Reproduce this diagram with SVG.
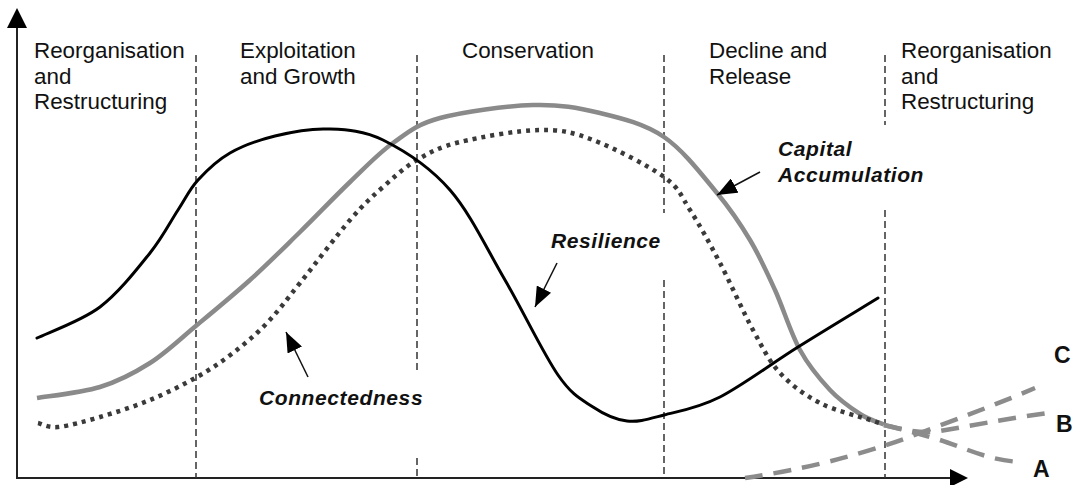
<svg xmlns="http://www.w3.org/2000/svg" width="1079" height="485" viewBox="0 0 1079 485">
  <style>
    .phase { font-family: "Liberation Sans", Arial, sans-serif; font-size: 22.4px; fill: #111; }
    .curve-label { font-family: "Liberation Sans", Arial, sans-serif; font-size: 21px; font-weight: bold; font-style: italic; letter-spacing: 0.6px; fill: #111; }
    .scenario { font-family: "Liberation Sans", Arial, sans-serif; font-size: 23px; font-weight: bold; fill: #111; }
    .axis { stroke: #222; stroke-width: 2; fill: none; }
    .divider { stroke: #333; stroke-width: 1.5; stroke-dasharray: 7 4; fill: none; }
    .resilience { stroke: #000; stroke-width: 3; fill: none; stroke-linecap: round; }
    .capital { stroke: #8a8a8a; stroke-width: 4.5; fill: none; }
    .connected { stroke: #3a3a3a; stroke-width: 4.5; stroke-dasharray: 4 5; fill: none; }
    .future { stroke: #8c8c8c; stroke-width: 4.5; stroke-dasharray: 18 11; fill: none; }
    .pointer { stroke: #111; stroke-width: 1.5; fill: none; marker-end: url(#head); }
  </style>
  <defs>
    <marker id="head" markerUnits="userSpaceOnUse" markerWidth="20" markerHeight="16" refX="20" refY="8" orient="auto">
      <path d="M0,0 L20,8 L0,16 z" fill="#000"/>
    </marker>
  </defs>

  <rect width="1079" height="485" fill="#fff"/>

  <!-- axes -->
  <g id="axes">
    <line class="axis" x1="17" y1="478" x2="17" y2="24"/>
    <polygon points="17,8 7,28 27,28" fill="#000"/>
    <line class="axis" x1="16" y1="478" x2="952" y2="478"/>
    <polygon points="968,478 950,469 950,487" fill="#000"/>
  </g>

  <!-- phase dividers -->
  <g id="dividers">
    <line class="divider" x1="196" y1="55" x2="196" y2="478"/>
    <line class="divider" x1="417" y1="55" x2="417" y2="374"/>
    <line class="divider" x1="417" y1="458" x2="417" y2="478"/>
    <line class="divider" x1="664" y1="55" x2="664" y2="213"/>
    <line class="divider" x1="664" y1="280" x2="664" y2="478"/>
    <line class="divider" x1="885" y1="55" x2="885" y2="125"/>
    <line class="divider" x1="885" y1="210" x2="885" y2="478"/>
  </g>

  <!-- phase headings -->
  <g id="phase-reorganisation-1">
    <text class="phase" x="34" y="58">Reorganisation</text>
    <text class="phase" x="34" y="83.5">and</text>
    <text class="phase" x="34" y="109">Restructuring</text>
  </g>
  <g id="phase-exploitation">
    <text class="phase" x="240" y="58">Exploitation</text>
    <text class="phase" x="240" y="83.5">and Growth</text>
  </g>
  <g id="phase-conservation">
    <text class="phase" x="462" y="58">Conservation</text>
  </g>
  <g id="phase-decline">
    <text class="phase" x="709" y="58">Decline and</text>
    <text class="phase" x="709" y="83.5">Release</text>
  </g>
  <g id="phase-reorganisation-2">
    <text class="phase" x="901" y="58">Reorganisation</text>
    <text class="phase" x="901" y="83.5">and</text>
    <text class="phase" x="901" y="109">Restructuring</text>
  </g>

  <!-- curves -->
  <g id="curves">
    <path id="capital-curve" class="capital" d="M37,398 C47.5,396.2 81.2,392.8 100,387 C118.8,381.2 133.8,373.3 150,363 C166.2,352.7 180.3,338.8 197,325 C213.7,311.2 232.8,295.5 250,280 C267.2,264.5 283.3,248.3 300,232 C316.7,215.7 334.5,196.8 350,182 C365.5,167.2 378,153.7 393,143 C408,132.3 416.7,124.3 440,118 C463.3,111.7 506.3,105.8 533,105 C559.7,104.2 578.2,107.7 600,113 C621.8,118.3 644.5,123.7 664,137 C683.5,150.3 702.7,175.8 717,193 C731.3,210.2 740.3,223.8 750,240 C759.7,256.2 766.7,271.7 775,290 C783.3,308.3 790.8,333.3 800,350 C809.2,366.7 820,379.3 830,390 C840,400.7 851.3,408.3 860,414 C868.7,419.7 878.3,422.3 884,424.5"/>
    <path id="connectedness-curve" class="connected" d="M38,423 C41.3,423.7 47.7,428 58,427 C68.3,426 84.7,421.5 100,417 C115.3,412.5 133.8,406.7 150,400 C166.2,393.3 183.2,384.8 197,377 C210.8,369.2 221.3,362 233,353 C244.7,344 255.8,334.7 267,323 C278.2,311.3 286.2,300.2 300,283 C313.8,265.8 336.2,236 350,220 C363.8,204 371.8,197 383,187 C394.2,177 404.2,167.5 417,160 C429.8,152.5 439.5,147 460,142 C480.5,137 517.8,130.3 540,130 C562.2,129.7 572.3,132.2 593,140 C613.7,147.8 647.8,165.3 664,177 C680.2,188.7 680.7,195.7 690,210 C699.3,224.3 709.5,243 720,263 C730.5,283 743,311.7 753,330 C763,348.3 768.8,360.8 780,373 C791.2,385.2 805,395.2 820,403 C835,410.8 859.7,416.5 870,420 C880.3,423.5 880,423.3 882,424"/>
    <path id="resilience-curve" class="resilience" d="M37,338 C47.5,332.8 81.2,321.2 100,307 C118.8,292.8 137,269.2 150,253 C163,236.8 170,222.2 178,210 C186,197.8 189.3,189.5 198,180 C206.7,170.5 217.2,160.3 230,153 C242.8,145.7 258.8,140 275,136 C291.2,132 309,128.3 327,129 C345,129.7 362.5,129.8 383,140 C403.5,150.2 429.7,166.7 450,190 C470.3,213.3 487,249.2 505,280 C523,310.8 543.3,353.8 558,375 C572.7,396.2 581.5,399.3 593,407 C604.5,414.7 615.2,419.7 627,421 C638.8,422.3 648.5,419 664,415 C679.5,411 697.7,408.3 720,397 C742.3,385.5 771.7,363.5 798,347 C824.3,330.5 864.7,306.2 878,298"/>
  </g>

  <!-- future trajectories -->
  <g id="scenario-paths">
    <path class="future" d="M745,478 C800,470 860,456 920,433 C960,418 1000,403 1035,388"/>
    <path class="future" d="M884,425 C905,430 920,434 940,431 C970,426 1010,418 1055,412"/>
    <path class="future" d="M884,425 C905,430 920,434 940,440 C965,448 990,461 1022,462"/>
  </g>

  <!-- label pointers -->
  <g id="connectors">
    <line class="pointer" x1="760" y1="172" x2="717" y2="195"/>
    <line class="pointer" x1="557" y1="263" x2="535" y2="307"/>
    <line class="pointer" x1="308" y1="377" x2="286" y2="332"/>
  </g>

  <!-- curve labels -->
  <g id="label-capital">
    <text class="curve-label" x="778" y="156">Capital</text>
    <text class="curve-label" x="778" y="182">Accumulation</text>
  </g>
  <g id="label-resilience">
    <text class="curve-label" x="551" y="248">Resilience</text>
  </g>
  <g id="label-connectedness">
    <text class="curve-label" x="259" y="405">Connectedness</text>
  </g>

  <!-- scenario letters -->
  <g id="scenario-c"><text class="scenario" x="1054" y="363">C</text></g>
  <g id="scenario-b"><text class="scenario" x="1056" y="432">B</text></g>
  <g id="scenario-a"><text class="scenario" x="1033" y="477">A</text></g>
</svg>
